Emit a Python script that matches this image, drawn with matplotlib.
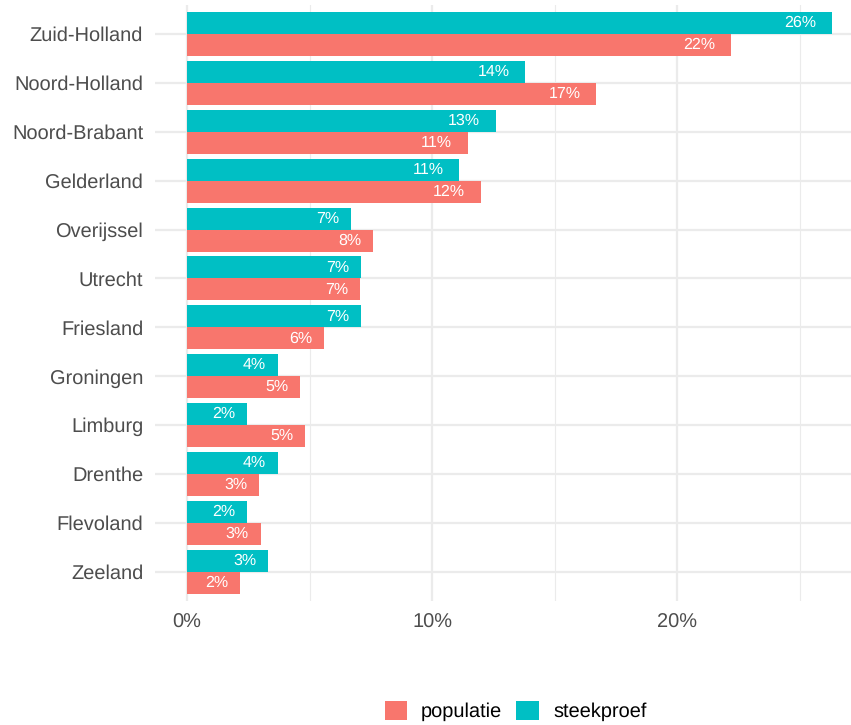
import matplotlib
matplotlib.use("Agg")
import matplotlib.pyplot as plt
from matplotlib.patches import Patch
from matplotlib import font_manager as fm
from matplotlib.transforms import offset_copy

plt.rcParams['text.hinting'] = 'no_hinting'
plt.rcParams['text.hinting_factor'] = 1

provinces = ["Zuid-Holland", "Noord-Holland", "Noord-Brabant", "Gelderland", "Overijssel",
             "Utrecht", "Friesland", "Groningen", "Limburg", "Drenthe", "Flevoland", "Zeeland"]
steekproef = [26.3, 13.8, 12.6, 11.1, 6.7, 7.1, 7.1, 3.7, 2.45, 3.7, 2.45, 3.3]
populatie = [22.2, 16.7, 11.45, 12.0, 7.6, 7.05, 5.6, 4.6, 4.8, 2.95, 3.0, 2.15]
xticks = [0, 10, 20]
xticklabels = ["0%", "10%", "20%"]

C_POP = "#F8766D"
C_STK = "#00BFC4"
GRID = "#EBEBEB"
TXT = "#4D4D4D"

reg = None
for f in fm.fontManager.ttflist:
    if f.name == "Liberation Sans" and f.style == "normal" and f.weight in (400, "normal") \
            and "Narrow" not in f.fname:
        reg = f.fname
        break
def fp(size):
    if reg:
        return fm.FontProperties(fname=reg, size=size)
    return fm.FontProperties(family="DejaVu Sans", size=size)

W, H = 851, 725
fig = plt.figure(figsize=(W / 100, H / 100), dpi=100)

left, right, top, bottom = 155, 864, 4.7, 601
ax = fig.add_axes([left / W, 1 - bottom / H, (right - left) / W, (bottom - top) / H])
ax.set_xlim(-1.305, (right - 187) / 24.52)
n = len(provinces)
ax.set_ylim(-0.6, n - 1 + 0.6)

for s in ax.spines.values():
    s.set_visible(False)

for v in [5, 15, 25]:
    ax.axvline(v, color=GRID, lw=0.8, zorder=0)
for v in xticks:
    ax.axvline(v, color=GRID, lw=1.6, zorder=0)
ys = [n - 1 - i for i in range(n)]
for y in ys:
    ax.axhline(y, color=GRID, lw=1.6, zorder=0)

bh = 0.45
ax.barh([y + bh / 2 for y in ys], steekproef, height=bh, color=C_STK, zorder=2)
ax.barh([y - bh / 2 for y in ys], populatie, height=bh, color=C_POP, zorder=2)

for y, sv, pv in zip(ys, steekproef, populatie):
    for val, yy in [(sv, y + bh / 2), (pv, y - bh / 2)]:
        lab = f"{int(val + 0.5):d}%"
        ax.text(val, yy, lab, ha="right", va="center", color="white",
                fontproperties=fp(11.2), zorder=3)

fig.canvas.draw()
renderer = fig.canvas.get_renderer()
for t in ax.texts:
    w = t.get_window_extent(renderer).width
    t.set_transform(offset_copy(ax.transData, fig=fig, x=-0.5 * w, y=0, units="dots"))

ax.set_yticks(ys)
ax.set_yticklabels(provinces, fontproperties=fp(14.3), color=TXT)
ax.set_xticks(xticks)
ax.set_xticklabels(xticklabels, fontproperties=fp(14.3), color=TXT)
ax.tick_params(axis="both", length=0)
ax.tick_params(axis="y", pad=8.5)
ax.tick_params(axis="x", pad=9)

handles = [Patch(facecolor=C_POP, edgecolor="none", label="populatie"),
           Patch(facecolor=C_STK, edgecolor="none", label="steekproef")]
fig.legend(handles=handles, loc="center", bbox_to_anchor=(515.5 / W, 1 - 711 / H), ncol=2,
           frameon=False, prop=fp(14.4), handlelength=1.13, handleheight=1.13,
           handletextpad=0.7, columnspacing=0.7, borderpad=0, borderaxespad=0)

fig.savefig("out.png", dpi=100)
